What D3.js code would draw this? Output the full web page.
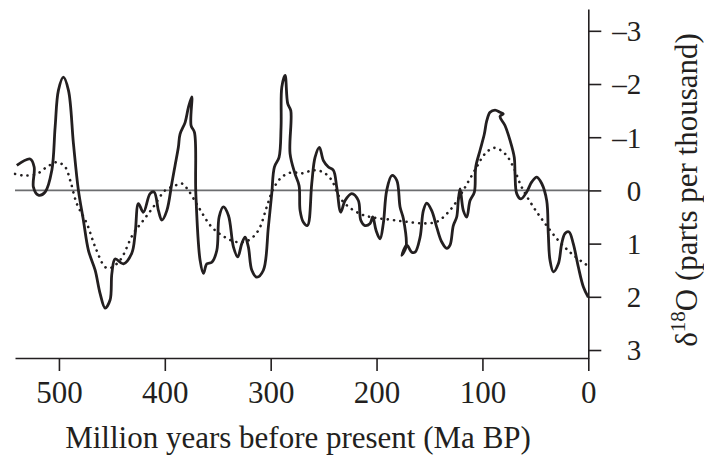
<!DOCTYPE html>
<html>
<head>
<meta charset="utf-8">
<script src="https://cdn.jsdelivr.net/npm/d3@7"></script>
<style>
  body { margin: 0; background: #fff; }
  text { font-family: "Liberation Serif", "Times New Roman", serif; fill: #231f20; }
</style>
</head>
<body>
<div class="chart"></div>
<script>
// oxygen isotope record (Ma BP, per mil)
let solidAge = [539.8, 527.2, 523.4, 524.1, 519.4, 513.0, 506.7, 503.6, 500.5, 495.8, 491.0, 486.3, 481.6,
  476.9, 472.1, 465.8, 461.1, 456.4, 451.7, 450.0, 446.9, 439.1, 431.2, 428.0, 424.9, 420.2, 413.9, 410.1,
  406.0, 402.8, 398.1, 393.4, 390.3, 387.2, 385.6, 380.8, 377.7, 374.5, 375.2, 372.0, 370.7, 366.7, 363.5,
  360.3, 355.6, 350.9, 348.7, 344.7, 339.9, 335.2, 331.1, 327.3, 324.2, 321.1, 317.8, 313.1, 306.9, 302.2,
  299.0, 296.5, 292.1, 290.2, 289.5, 286.4, 283.9, 281.0, 281.7, 277.0, 273.2, 272.2, 269.1, 265.3, 261.2,
  258.1, 254.0, 250.2, 245.5, 240.8, 237.6, 233.8, 229.7, 223.4, 217.2, 214.9, 210.9, 206.1, 203.6, 200.5,
  196.7, 193.6, 190.4, 185.6, 180.9, 177.8, 174.7, 172.1, 176.2, 171.5, 166.8, 163.6, 158.9, 155.8, 152.6,
  147.9, 143.2, 138.4, 133.7, 130.6, 127.5, 124.3, 122.8, 121.1, 118.0, 114.8, 111.7, 107.6, 106.3, 102.3,
  98.2, 95.9, 92.8, 88.1, 83.4, 80.3, 83.4, 78.7, 73.9, 69.9, 69.2, 67.6, 63.6, 58.2, 53.4, 48.7, 44.0,
  39.3, 37.8, 36.2, 33.0, 28.3, 25.1, 22.0, 18.2, 14.2, 9.4, 4.7, 0];
let solidD18O = [-0.47, -0.59, -0.44, -0.06, 0.09, 0.03, -0.38, -1.19, -1.88, -2.13, -1.88, -0.88, 0,
  0.56, 1.13, 1.50, 1.94, 2.21, 2.06, 1.56, 1.29, 1.38, 1.18, 0.81, 0.25, 0.41, 0.06, 0.03,
  0.38, 0.56, 0.38, -0.13, -0.47, -0.81, -1.06, -1.28, -1.56, -1.76, -1.22, -1.09, 0.06, 1.31, 1.56,
  1.38, 1.35, 1.13, 0.50, 0.31, 0.47, 1.06, 1.25, 1.00, 0.88, 1.06, 1.50, 1.63, 1.50, 0.69,
  0.06, -0.44, -0.62, -1.19, -1.94, -2.16, -1.63, -1.50, -0.69, -0.31, -0.09, 0.38, 0.60, 0.66, -0.13,
  -0.62, -0.81, -0.56, -0.44, -0.38, -0.06, 0.41, 0.19, 0.06, 0.19, 0.56, 0.66, 0.62, 0.50, 0.75,
  0.91, 0.62, 0, -0.28, -0.19, 0.31, 0.53, 1.06, 1.22, 1.03, 1.16, 1.16, 0.88, 0.38, 0.24,
  0.38, 0.69, 0.97, 1.09, 1.03, 0.66, 0.50, 0.19, -0.03, 0.38, 0.50, 0.19, 0.03, -0.44, -0.75,
  -1.06, -1.31, -1.47, -1.51, -1.47, -1.44, -1.39, -1.22, -0.94, -0.62, -0.31, 0.06, 0.16, 0.03, -0.16, -0.25, -0.13,
  0.19, 0.81, 1.31, 1.53, 1.38, 1.00, 0.81, 0.78, 1.00, 1.44, 1.81, 2.01];

// smoothed record (dotted)
let dottedAge = [541.4, 533.5, 520.9, 511.4, 502.0, 494.1, 489.4, 483.1, 473.7, 465.8, 456.4, 451.7, 442.2,
  429.7, 420.2, 410.8, 399.7, 390.3, 383.9, 377.7, 368.3, 355.6, 343.1, 332.0, 321.1, 311.6, 303.7, 297.5,
  289.5, 280.1, 270.6, 259.7, 250.2, 242.3, 236.1, 228.1, 215.6, 203.0, 187.3, 171.5, 155.8, 143.2, 133.7,
  125.9, 116.4, 105.4, 97.5, 88.8, 78.7, 70.8, 62.9, 51.9, 40.9, 28.3, 15.7, 3.1, 0];
let dottedD18O = [-0.31, -0.28, -0.31, -0.44, -0.53, -0.44, -0.19, 0.25, 0.62, 1.06, 1.44, 1.46, 1.31,
  0.81, 0.56, 0.31, 0, -0.09, -0.13, 0, 0.31, 0.69, 0.88, 0.97, 0.94, 0.75, 0.31, -0.03,
  -0.25, -0.34, -0.32, -0.38, -0.34, -0.19, 0.09, 0.28, 0.44, 0.51, 0.55, 0.59, 0.62, 0.59, 0.44,
  0.25, -0.06, -0.44, -0.69, -0.80, -0.69, -0.44, -0.06, 0.31, 0.62, 0.94, 1.19, 1.38, 1.42];

let xTicks = [500, 400, 300, 200, 100, 0];
let yTicks = [-3, -2, -1, 0, 1, 2, 3];

let svgW = 704;
let svgH = 459;

let svg = d3.select(".chart")
  .append("svg")
  .attr("width", svgW)
  .attr("height", svgH);

// plot box in pixels
let x = d3.scaleLinear().domain([541.5, 0]).range([15, 588.3]);
let y = d3.scaleLinear().domain([-3.41, 3.15]).range([9, 358]);

// zero line
svg.append("line")
  .attr("x1", x(541.5)).attr("x2", x(0))
  .attr("y1", y(0)).attr("y2", y(0))
  .attr("stroke", "#6d6e70")
  .attr("stroke-width", 1.6);

// x axis
let xAxis = svg.append("g")
  .attr("transform", `translate(0, ${y(3.15)})`)
  .call(d3.axisBottom(x).tickValues(xTicks).tickSize(13).tickSizeOuter(0));

// y axis on the right
let yAxis = svg.append("g")
  .attr("transform", `translate(${x(0)}, 0)`)
  .call(d3.axisRight(y).tickValues(yTicks).tickSize(13).tickSizeOuter(0)
    .tickFormat(d => d < 0 ? "\u2013" + Math.abs(d) : d));

[xAxis, yAxis].forEach(function(g) {
  g.select(".domain").attr("stroke", "#231f20").attr("stroke-width", 1.6);
  g.selectAll(".tick line").attr("stroke", "#231f20").attr("stroke-width", 1.6);
  g.selectAll(".tick text")
    .style("font-family", "'Liberation Serif', serif")
    .attr("fill", "#231f20");
});

xAxis.selectAll(".tick text")
  .style("font-size", "31px")
  .attr("y", 44.5)
  .attr("dy", 0);

yAxis.selectAll(".tick text")
  .style("font-size", "29px")
  .attr("x", 53)
  .attr("dy", "0.34em")
  .attr("text-anchor", "end");

// curves
let solidPts = solidAge.map((a, i) => [a, solidD18O[i]]);
let dottedPts = dottedAge.map((a, i) => [a, dottedD18O[i]]);

let line = d3.line()
  .x(d => x(d[0]))
  .y(d => y(d[1]))
  .curve(d3.curveCatmullRom.alpha(0.5));

svg.append("path")
  .datum(dottedPts)
  .attr("d", line)
  .attr("fill", "none")
  .attr("stroke", "#231f20")
  .attr("stroke-width", 2.6)
  .attr("stroke-linecap", "round")
  .attr("stroke-dasharray", "0.1 6.2");

svg.append("path")
  .datum(solidPts)
  .attr("d", line)
  .attr("fill", "none")
  .attr("stroke", "#231f20")
  .attr("stroke-width", 2.8)
  .attr("stroke-linejoin", "round");

// axis titles
svg.append("text")
  .attr("x", 298)
  .attr("y", 448)
  .attr("text-anchor", "middle")
  .style("font-size", "31px")
  .text("Million years before present (Ma BP)");

let yTitle = svg.append("text")
  .attr("transform", `translate(697, 190) rotate(-90)`)
  .attr("text-anchor", "middle")
  .style("font-size", "31px");
yTitle.append("tspan").text("\u03b4");
yTitle.append("tspan").attr("dy", -12).style("font-size", "21px").text("18");
yTitle.append("tspan").attr("dy", 12).text("O (parts per thousand)");
</script>
</body>
</html>
